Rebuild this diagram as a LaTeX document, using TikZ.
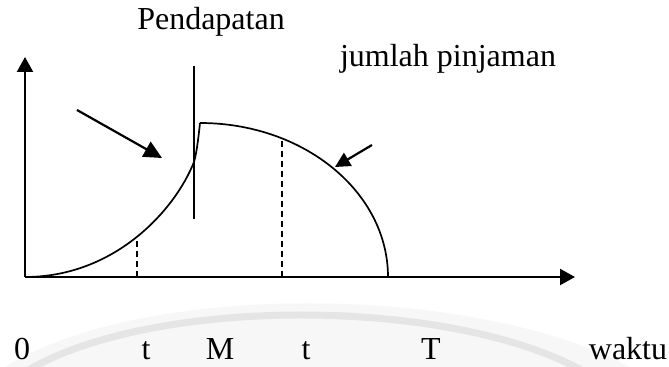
\documentclass[tikz,border=0pt]{standalone}
\usepackage{fontspec}
\setmainfont{Liberation Serif}
\usetikzlibrary{arrows.meta}
\begin{document}
\begin{tikzpicture}[x=0.5pt,y=-0.5pt,
  axis/.style={line width=1.1pt,-{Triangle[length=7.5pt,width=8pt]}},
  curve/.style={line width=0.85pt},
  guide/.style={line width=0.8pt,dash pattern=on 3pt off 2pt},
  marker/.style={line width=0.8pt},
  pointer/.style={line width=1.1pt,-{Triangle[length=9pt,width=8.5pt]}},
  pointersmall/.style={line width=1.1pt,-{Triangle[length=7.5pt,width=7.5pt]}},
  lbl/.style={font=\fontsize{16}{19}\selectfont,inner sep=0pt,anchor=base}]
\useasboundingbox (0,0) rectangle (669,367);
% faint background watermark
\fill[gray!6] (5,367) .. controls (140,282) and (470,282) .. (630,367) -- cycle;
\draw[gray!20,line width=3.5pt] (25,372) .. controls (150,296) and (450,296) .. (585,372);
% coordinates
\coordinate (O) at (25,277);
\coordinate (Ytop) at (25,57);
\coordinate (Xend) at (575,277);
\coordinate (J) at (194,162);
\coordinate (Top) at (200,123);
\coordinate (A1) at (137,277);
\coordinate (A1c) at (137,240);
\coordinate (A2) at (282,277);
\coordinate (A2c) at (282,139);
\coordinate (Vt) at (194,66);
\coordinate (Vb) at (194,219);
\coordinate (P1s) at (77,110);
\coordinate (P1e) at (162,158);
\coordinate (P2s) at (372,145);
\coordinate (P2e) at (335,167);
% axes
\draw[axis] (O) -- (Ytop);
\draw[axis] (O) -- (Xend);
% curves
\draw[curve] (O) .. controls (115,277) and (175,210) .. (J)
  .. controls (197,152) and (199,132) .. (Top);
\draw[curve] (Top) arc[start angle=-90,end angle=0,x radius=188,y radius=154];
% guides
\draw[guide] (A1) -- (A1c);
\draw[guide] (A2) -- (A2c);
\draw[marker] (Vt) -- (Vb);
% pointers
\draw[pointer] (P1s) -- (P1e);
\draw[pointersmall] (P2s) -- (P2e);
% labels
\node[lbl] (pend) at (211,30) {Pendapatan};
\node[lbl] (jum) at (448,67) {jumlah pinjaman};
\node[lbl] (l0) at (22,360) {0};
\node[lbl] (lt1) at (146,360) {t};
\node[lbl] (lM) at (220,360) {M};
\node[lbl] (lt2) at (306,360) {t};
\node[lbl] (lT) at (431,360) {T};
\node[lbl] (lw) at (628,360) {waktu};
\end{tikzpicture}
\end{document}
